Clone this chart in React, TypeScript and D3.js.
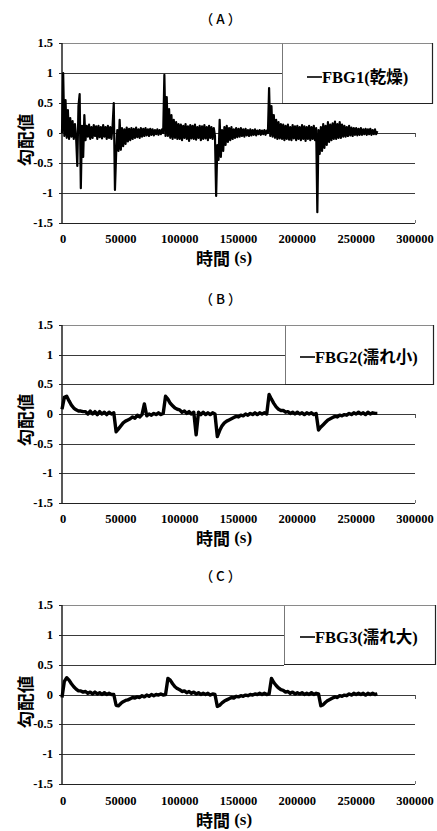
import React from "react";
import * as d3 from "d3";

// ---- data ----
const X_TICKS = [0, 50000, 100000, 150000, 200000, 250000, 300000];
const Y_TICKS = [-1.5, -1, -0.5, 0, 0.5, 1, 1.5];
const TITLES = ["（A）", "（B）", "（C）"];
const LEGENDS = ["FBG1(乾燥)", "FBG2(濡れ小)", "FBG3(濡れ大)"];
const Y_LABEL = "勾配値";
const X_LABEL = "時間";
const X_UNIT = "(s)";

// sampling interval (s) of each series
const STEP_A = 1000;
const STEP_BC = 2000;

// FBG1 (dry): one value every 1000 s, 0 .. 268000 s
const FBG1 = [
  0.0, 1.0, -0.05, 0.55, -0.08, 0.38, -0.1, 0.25, -0.06, 0.2,
  -0.1, 0.15, -0.08, -0.55, 0.45, 0.65, -0.92, 0.12, -0.4, 0.3,
  -0.12, 0.12, -0.06, 0.14, -0.1, 0.1, -0.08, 0.13, -0.05, 0.11,
  -0.1, 0.12, -0.07, 0.1, -0.09, 0.13, -0.06, 0.1, -0.1, 0.12,
  -0.08, 0.1, -0.1, 0.12, 0.5, -0.95, -0.35, 0.05, -0.3, 0.22,
  -0.28, 0.08, -0.22, 0.06, -0.18, 0.09, -0.14, 0.07, -0.12, 0.08,
  -0.1, 0.07, -0.08, 0.09, -0.07, 0.06, -0.08, 0.08, -0.06, 0.07,
  -0.05, 0.08, -0.04, 0.06, -0.05, 0.07, -0.03, 0.06, -0.04, 0.05,
  -0.02, 0.06, -0.03, 0.05, -0.02, 0.06, 0.0, 0.97, -0.05, 0.6,
  -0.05, 0.4, -0.08, 0.3, -0.1, 0.22, -0.08, 0.18, -0.1, 0.15,
  -0.1, 0.14, -0.12, 0.12, -0.08, 0.15, -0.1, 0.11, -0.13, 0.13,
  -0.09, 0.12, -0.1, 0.14, -0.11, 0.1, -0.08, 0.12, -0.12, 0.11,
  -0.1, 0.13, -0.09, 0.1, -0.12, 0.12, -0.08, 0.1, -0.1, 0.08,
  -0.05, -1.05, -0.2, -0.45, 0.22, -0.4, 0.05, -0.3, 0.1, -0.2,
  0.12, -0.15, 0.08, -0.12, 0.1, -0.1, 0.06, -0.08, 0.08, -0.07,
  0.07, -0.06, 0.08, -0.05, 0.06, -0.06, 0.07, -0.04, 0.05, -0.05,
  0.06, -0.04, 0.05, -0.03, 0.06, -0.04, 0.04, -0.02, 0.05, -0.03,
  0.04, -0.02, 0.05, -0.03, 0.04, 0.0, 0.75, -0.05, 0.45, -0.06,
  0.3, -0.08, 0.22, -0.1, 0.18, -0.09, 0.15, -0.1, 0.14, -0.12,
  0.12, -0.1, 0.14, -0.11, 0.1, -0.12, 0.13, -0.09, 0.11, -0.12,
  0.12, -0.1, 0.1, -0.12, 0.13, -0.1, 0.11, -0.13, 0.1, -0.1,
  0.12, -0.12, 0.1, -0.1, 0.12, -0.12, 0.08, -1.32, 0.05, -0.35,
  0.1, -0.3, 0.15, -0.25, 0.12, -0.2, 0.18, -0.15, 0.14, -0.12,
  0.16, -0.1, 0.19, -0.1, 0.15, -0.08, 0.18, -0.08, 0.14, -0.06,
  0.12, -0.06, 0.1, -0.05, 0.12, -0.04, 0.09, -0.05, 0.08, -0.03,
  0.08, -0.04, 0.07, -0.03, 0.08, -0.03, 0.06, -0.02, 0.07, -0.03,
  0.06, -0.02, 0.07, -0.03, 0.05, -0.02, 0.06, -0.02, 0.03,
];

// FBG2 (slightly wet): one value every 2000 s
const FBG2 = [
  0.08, 0.28, 0.3, 0.22, 0.15, 0.1, 0.07, 0.05, 0.05, 0.04,
  0.04, 0.0, 0.05, 0.0, 0.04, -0.01, 0.04, 0.0, 0.03, -0.01,
  0.03, 0.0, 0.02, -0.3, -0.25, -0.2, -0.15, -0.12, -0.1, -0.08,
  -0.05, -0.07, -0.02, -0.05, -0.01, 0.17, -0.03, 0.0, -0.02, 0.01,
  -0.01, 0.02, -0.01, 0.01, 0.3, 0.25, 0.18, 0.14, 0.1, 0.08,
  0.07, 0.03, 0.05, 0.01, 0.04, 0.0, 0.03, -0.35, 0.03, -0.01,
  0.03, -0.01, 0.02, -0.01, 0.02, 0.0, -0.38, -0.28, -0.2, -0.15,
  -0.12, -0.1, -0.08, -0.06, -0.04, -0.05, -0.02, -0.03, 0.0, -0.02,
  0.01, -0.01, 0.02, -0.01, 0.02, 0.0, 0.02, 0.0, 0.33, 0.25,
  0.18, 0.12, 0.08, 0.06, 0.06, 0.03, 0.04, 0.01, 0.03, 0.0,
  0.03, 0.0, 0.02, -0.01, 0.02, 0.0, 0.02, -0.01, 0.01, -0.27,
  -0.22, -0.18, -0.14, -0.1, -0.08, -0.06, -0.04, -0.05, -0.02, -0.03,
  -0.01, -0.02, 0.01, -0.01, 0.02, 0.0, 0.03, 0.0, 0.02, -0.01,
  0.03, 0.0, 0.02, 0.01, 0.01,
];

// FBG3 (very wet): one value every 2000 s
const FBG3 = [
  -0.05, 0.22, 0.28, 0.24, 0.18, 0.13, 0.09, 0.06, 0.06, 0.04,
  0.05, 0.02, 0.04, 0.01, 0.04, 0.01, 0.03, 0.0, 0.03, 0.0,
  0.02, 0.0, 0.0, -0.18, -0.19, -0.15, -0.12, -0.1, -0.09, -0.07,
  -0.05, -0.06, -0.04, -0.05, -0.02, -0.04, -0.01, -0.03, 0.0, -0.02,
  0.0, -0.01, 0.01, -0.01, 0.0, 0.27, 0.24, 0.18, 0.13, 0.1,
  0.08, 0.05, 0.06, 0.03, 0.05, 0.02, 0.04, 0.01, 0.03, 0.0,
  0.02, 0.0, 0.02, -0.01, 0.01, 0.0, -0.2, -0.18, -0.14, -0.11,
  -0.09, -0.07, -0.05, -0.06, -0.03, -0.04, -0.02, -0.03, -0.01, -0.02,
  0.0, -0.01, 0.01, 0.0, 0.02, 0.0, 0.02, 0.0, 0.01, 0.27,
  0.2, 0.15, 0.11, 0.08, 0.07, 0.04, 0.05, 0.02, 0.04, 0.01,
  0.03, 0.01, 0.03, 0.0, 0.02, 0.0, 0.03, 0.0, 0.02, 0.01,
  -0.19, -0.17, -0.13, -0.1, -0.08, -0.06, -0.04, -0.05, -0.02, -0.03,
  -0.01, -0.02, 0.01, -0.01, 0.02, 0.0, 0.02, 0.0, 0.02, -0.01,
  0.02, 0.0, 0.02, 0.0, 0.01,
];

// ---- layout ----
const W = 437;
const H = 831;
const LEFT = 62;
const RIGHT = 415;

const PANELS = [
  { data: FBG1, step: STEP_A, width: 2.2, title: 18, top: 43, bottom: 223, tick: 239, xlab: 257, ylab: 140, legL: 282, legR: 432, legB: 103, legY: 77, legX: 307 },
  { data: FBG2, step: STEP_BC, width: 3.4, title: 298, top: 325, bottom: 503, tick: 519, xlab: 537, ylab: 420, legL: 285, legR: 433, legB: 384, legY: 357, legX: 300 },
  { data: FBG3, step: STEP_BC, width: 3.4, title: 575, top: 605, bottom: 784, tick: 801, xlab: 819, ylab: 702, legL: 284, legR: 435, legB: 664, legY: 637, legX: 300 },
];

const SERIF = "'Liberation Serif', 'Times New Roman', 'Noto Sans CJK JP', serif";
const SANS_JP = "'Noto Sans CJK JP', 'Noto Sans', sans-serif";

function Panel({ p, i }: { p: (typeof PANELS)[number]; i: number }) {
  const x = d3.scaleLinear().domain([0, 300000]).range([LEFT, RIGHT]);
  const y = d3.scaleLinear().domain([-1.5, 1.5]).range([p.bottom, p.top]);
  const line = d3
    .line<number>()
    .x((_, k) => x(k * p.step))
    .y((v) => y(v));

  return (
    <g>
      <text x={222} y={p.title} textAnchor="middle" dominantBaseline="central" fontFamily={SANS_JP} fontSize={13.5} fontWeight={500} letterSpacing={3}>
        {TITLES[i]}
      </text>

      {/* gridlines */}
      {Y_TICKS.map((t) => {
        const yy = Math.round(y(t)) + 0.5;
        const x2 = y(t) < p.legB + 1 ? p.legL : RIGHT;
        const col = t === 1.5 ? "#8a8a8a" : t === -1.5 ? "#222" : "#3a3a3a";
        return <line key={t} x1={LEFT} x2={x2} y1={yy} y2={yy} stroke={col} strokeWidth={t === 1.5 ? 1 : 1.2} />;
      })}
      {/* right-end small ticks */}
      <line x1={RIGHT + 0.5} x2={RIGHT + 0.5} y1={Math.round(y(0))} y2={Math.round(y(0)) + 4} stroke="#555" />
      <line x1={RIGHT + 0.5} x2={RIGHT + 0.5} y1={Math.round(y(-1.5)) - 3} y2={Math.round(y(-1.5))} stroke="#777" />

      {/* left axis */}
      <line x1={LEFT} x2={LEFT} y1={p.top} y2={p.bottom + 1} stroke="#222" strokeWidth={1.5} />
      {Y_TICKS.map((t) => (
        <line key={"yt" + t} x1={LEFT - 3} x2={LEFT} y1={Math.round(y(t)) + 0.5} y2={Math.round(y(t)) + 0.5} stroke="#222" />
      ))}
      {Y_TICKS.map((t) => (
        <text key={"yl" + t} x={53} y={y(t)} textAnchor="end" dominantBaseline="central" fontFamily={SERIF} fontWeight="bold" fontSize={12.5}>
          {String(t)}
        </text>
      ))}
      {X_TICKS.map((t) => (
        <text key={"xl" + t} x={x(t) + (t === 0 ? 1 : 0)} y={p.tick} textAnchor="middle" dominantBaseline="central" fontFamily={SERIF} fontWeight="bold" fontSize={12.5}>
          {String(t)}
        </text>
      ))}

      {/* legend box */}
      <rect x={p.legL + 0.5} y={p.top + 0.5} width={p.legR - p.legL} height={p.legB - p.top} fill="#fff" stroke="#777" strokeWidth={1} />
      <line x1={p.legL + 0.5} x2={p.legR + 0.5} y1={p.top + 0.5} y2={p.top + 0.5} stroke="#8a8a8a" />
      <line x1={p.legR + 0.5} x2={p.legR + 0.5} y1={p.top} y2={p.legB + 1} stroke="#222" strokeWidth={1.2} />
      <line x1={p.legL} x2={p.legR + 1} y1={p.legB + 0.5} y2={p.legB + 0.5} stroke="#222" strokeWidth={1.2} />
      <line x1={p.legX} x2={p.legX + 15} y1={p.legY} y2={p.legY} stroke="#000" strokeWidth={1.6} />
      <text x={p.legX + 15} y={p.legY} dominantBaseline="central" fontFamily={SERIF} fontWeight="bold" fontSize={16.5}>
        {LEGENDS[i]}
      </text>

      {/* series */}
      <path d={line(p.data) || ""} fill="none" stroke="#000" strokeWidth={p.width} strokeLinejoin="round" />

      {/* axis titles */}
      <text
        transform={`translate(24,${p.ylab}) rotate(-90)`}
        textAnchor="middle"
        dominantBaseline="central"
        fontFamily={SANS_JP}
        fontWeight="bold"
        fontSize={17.5}
      >
        {Y_LABEL}
      </text>
      <text x={224} y={p.xlab} textAnchor="middle" dominantBaseline="central" fontWeight="bold" fontSize={17}>
        <tspan fontFamily={SANS_JP}>{X_LABEL}</tspan>
        <tspan fontFamily={SERIF}> {X_UNIT}</tspan>
      </text>
    </g>
  );
}

export default function App() {
  return (
    <svg width={W} height={H} viewBox={`0 0 ${W} ${H}`} style={{ position: "absolute", left: 0, top: 0, background: "#fff" }}>
      <rect width={W} height={H} fill="#fff" />
      {PANELS.map((p, i) => (
        <Panel key={i} p={p} i={i} />
      ))}
    </svg>
  );
}
